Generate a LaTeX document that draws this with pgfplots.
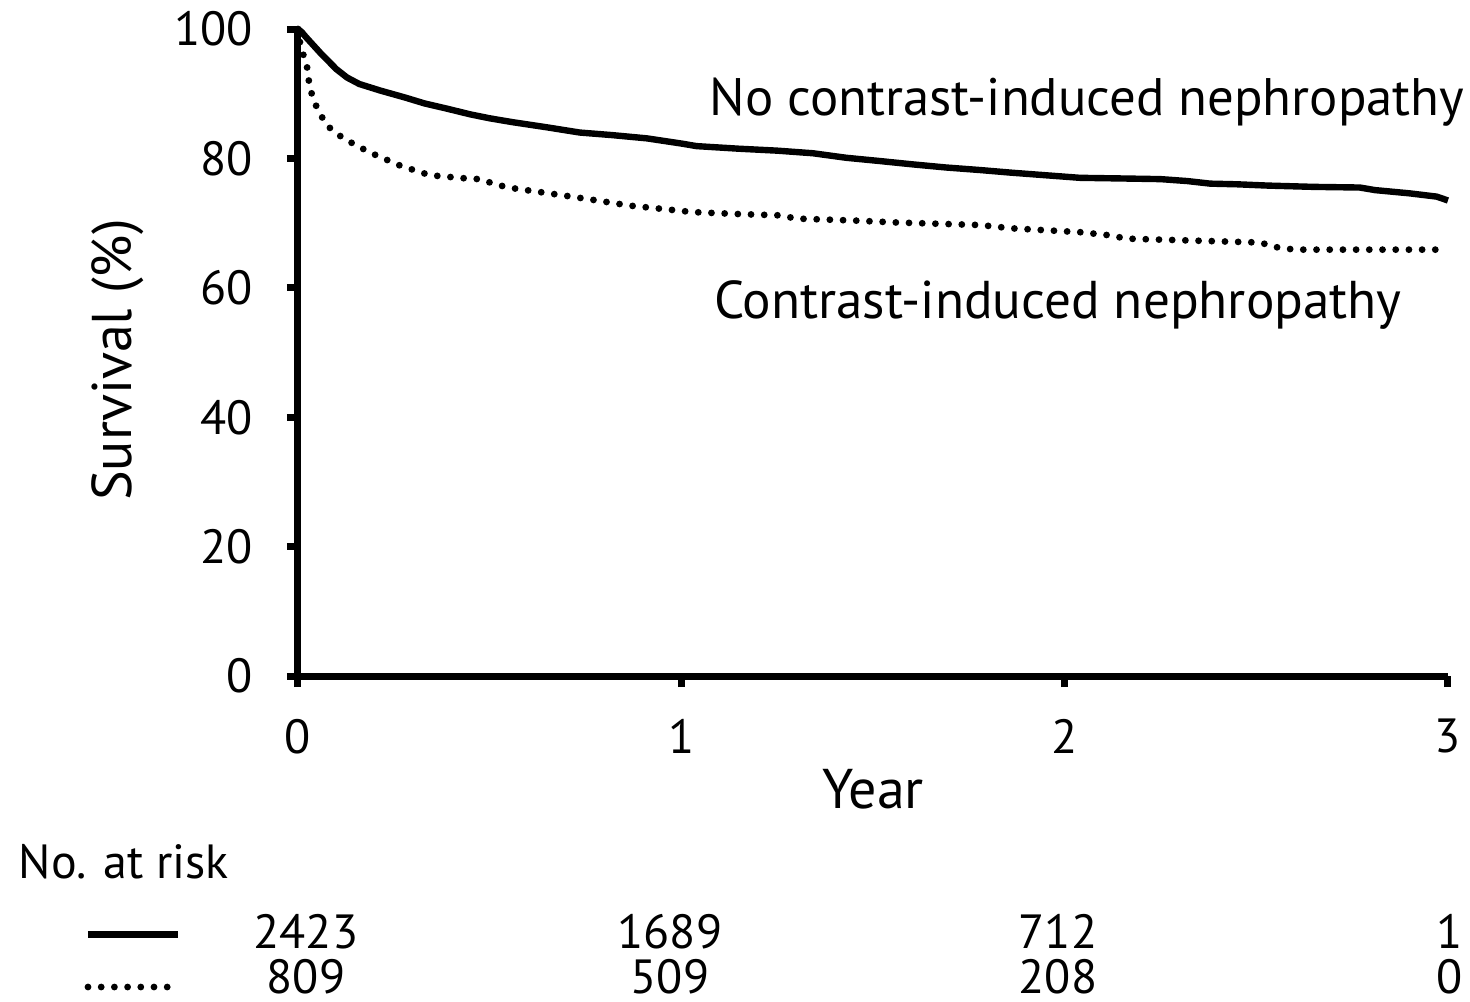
\documentclass[border=0pt]{standalone}
\usepackage{pgfplots}
\pgfplotsset{compat=1.18}
\usepackage{fontspec}
\setmainfont{PT Sans}
\begin{document}
\begin{tikzpicture}
\path[use as bounding box] (-74.5pt,-81.25pt) rectangle (293pt,169pt);
\begin{axis}[
  scale only axis,
  width=287.5pt, height=161.75pt,
  xmin=0, xmax=3, ymin=0, ymax=100,
  axis x line=bottom, axis y line=left,
  axis line style={-, line width=1.75pt},
  xtick={0,1,2,3}, ytick={0,20,40,60,80,100},
  tick align=outside, major tick length=2.8pt,
  every tick/.style={black, line width=1.75pt},
  tick label style={font=\fontsize{12}{14}\selectfont},
  xticklabel style={yshift=-4.5pt},
  yticklabel style={xshift=-5pt},
  /pgf/number format/assume math mode=true,
  clip=false,
]
\addplot[black, line width=1.6pt, line join=round] coordinates {
(0,100) (0.01,99.5) (0.02,98.8) (0.04,97.5) (0.06,96.2) (0.08,95) (0.10,93.8)
(0.128,92.5) (0.16,91.5) (0.214,90.5) (0.28,89.4) (0.33,88.5) (0.388,87.7)
(0.45,86.8) (0.50,86.2) (0.56,85.6) (0.65,84.8) (0.735,84.0) (0.82,83.6)
(0.91,83.1) (1.0,82.3) (1.04,81.9) (1.15,81.5) (1.25,81.2) (1.343,80.8)
(1.43,80.1) (1.517,79.6) (1.60,79.1) (1.69,78.6) (1.78,78.2) (1.86,77.8)
(1.95,77.4) (2.04,77.0) (2.15,76.9) (2.25,76.8) (2.32,76.5) (2.38,76.1)
(2.45,76.0) (2.53,75.8) (2.65,75.6) (2.77,75.5) (2.81,75.1) (2.90,74.6)
(2.97,74.1) (3.0,73.5)
};
\addplot[black, line width=1.7pt, line cap=round, dash pattern=on 0pt off 3.3pt] coordinates {
(0,100) (0.005,98) (0.013,96.2) (0.023,94.4) (0.031,90.8) (0.05,87.7)
(0.075,85.1) (0.118,83.1) (0.188,80.9) (0.266,78.9) (0.344,77.4) (0.44,76.9)
(0.474,76.8) (0.52,75.9) (0.56,75.4) (0.69,74.3) (0.78,73.5) (0.866,72.7)
(0.95,72.2) (1.03,71.7) (1.15,71.4) (1.257,71.2) (1.30,70.7) (1.45,70.4)
(1.56,70.1) (1.78,69.7) (1.86,69.2) (2.04,68.6) (2.12,68.1) (2.16,67.6)
(2.51,67.0) (2.55,66.3) (2.60,65.9) (3.0,65.9)
};
\end{axis}
\begin{scope}[every node/.style={inner sep=0pt}]
\node[anchor=base, font=\fontsize{13.2}{16}\selectfont] at (197.25pt,140.25pt) {No contrast-induced nephropathy};
\node[anchor=base, font=\fontsize{13.3}{16}\selectfont] at (190pt,89.5pt) {Contrast-induced nephropathy};
\node[anchor=base, font=\fontsize{14}{16}\selectfont] at (143.75pt,-33pt) {Year};
\node[rotate=90, font=\fontsize{14}{16}\selectfont] at (-45pt,79pt) {Survival (\%)};
\node[anchor=base west, font=\fontsize{12}{14}\selectfont] at (-70pt,-50.5pt) {No. at risk};
\draw[line width=1.75pt] (-52.5pt,-64.5pt) -- (-30pt,-64.5pt);
\draw[line width=1.7pt, line cap=round, dash pattern=on 0pt off 3.3pt] (-52.5pt,-77.75pt) -- (-30pt,-77.75pt);
\foreach \x/\a/\b in {2/2423/809, 93/1689/509, 190/712/208, 288/1/0} {
  \node[anchor=base, font=\fontsize{12}{14}\selectfont] at (\x pt,-68pt) {\a};
  \node[anchor=base, font=\fontsize{12}{14}\selectfont] at (\x pt,-79.25pt) {\b};
}
\end{scope}
\end{tikzpicture}
\end{document}
